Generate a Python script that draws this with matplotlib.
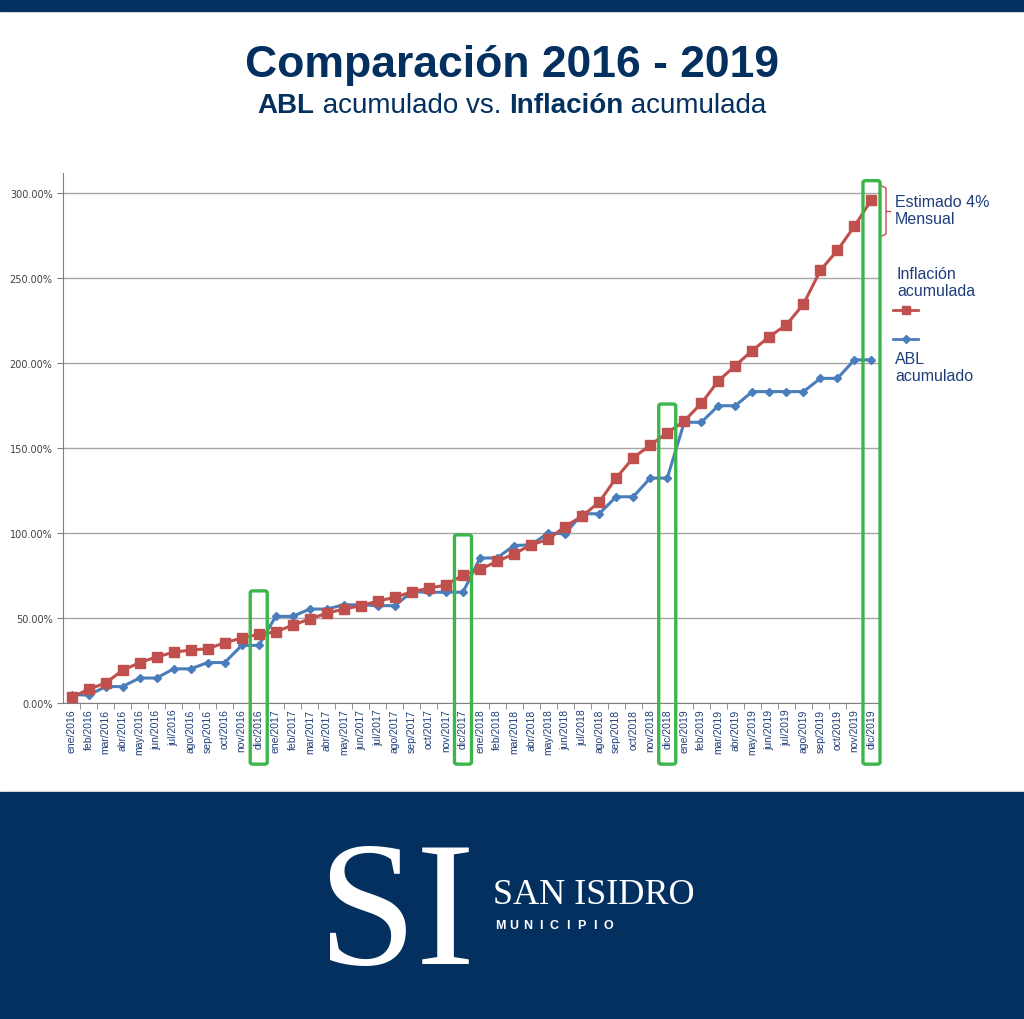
import matplotlib
matplotlib.use("Agg")
import matplotlib.pyplot as plt
from matplotlib.patches import Rectangle, FancyBboxPatch
from matplotlib.lines import Line2D
from matplotlib.ticker import FuncFormatter, MultipleLocator

# datos
meses = ['ene', 'feb', 'mar', 'abr', 'may', 'jun', 'jul', 'ago', 'sep', 'oct', 'nov', 'dic']
anios = [2016, 2017, 2018, 2019]
etiquetas = [m + '/' + str(a) for a in anios for m in meses]

inflacion = [3.4, 8.0, 11.8, 19.2, 23.8, 27.1, 29.9, 31.2, 31.9, 35.5, 38.2, 40.5,
             41.8, 45.9, 49.4, 52.9, 55.3, 57.3, 60.0, 62.2, 65.5, 67.6, 69.4, 75.3,
             78.7, 83.3, 87.8, 93.1, 96.3, 103.9, 110.0, 118.2, 132.5, 144.3, 151.8, 159.0,
             166.0, 176.4, 189.6, 198.6, 207.5, 215.7, 222.6, 234.8, 254.7, 266.5, 280.7, 296.3]

abl = [5.0, 4.6, 9.6, 9.7, 14.7, 14.7, 20.1, 20.1, 23.8, 23.8, 33.9, 33.9,
       51.0, 51.0, 55.3, 55.3, 57.8, 57.8, 57.3, 57.3, 65.5, 65.2, 65.2, 65.2,
       85.3, 85.4, 92.7, 93.1, 100.0, 99.6, 111.4, 111.4, 121.4, 121.4, 132.4, 132.4,
       165.3, 165.2, 175.0, 175.0, 183.3, 183.3, 183.3, 183.3, 191.1, 191.1, 202.0, 202.0]

# recuadros verdes (diciembre de cada anio) y su borde superior
recuadros_idx = [11, 23, 35, 47]
recuadros_top = [66.0, 99.0, 176.0, 307.5]

navy = '#03305f'
txt_azul = '#1f3f7a'
rojo = '#c0504d'
azul = '#4a7ebb'
verde = '#3cb54a'

fig = plt.figure(figsize=(10.24, 10.20), dpi=100)
fig.patch.set_facecolor('white')

# barras azules arriba y abajo
fig.patches.append(Rectangle((0, 1 - 12 / 1020), 1, 12 / 1020, transform=fig.transFigure,
                             color=navy, zorder=0))
fig.patches.append(Rectangle((0, 0), 1, 227 / 1020, transform=fig.transFigure,
                             color=navy, zorder=0))

# titulo
fig.text(0.5, 1 - 65 / 1020, 'Comparación 2016 - 2019', ha='center', va='center',
         fontsize=32, fontweight='bold', color=navy, family='Liberation Sans')

# subtitulo con partes en negrita
partes = [('ABL', 'bold'), (' acumulado vs. ', 'normal'), ('Inflación', 'bold'),
          (' acumulada', 'normal')]
renderer = fig.canvas.get_renderer()
objs = []
total = 0
for s, w in partes:
    t = fig.text(0, 1 - 106 / 1020, s, ha='left', va='center', fontsize=20,
                 fontweight=w, color=navy, family='Liberation Sans')
    ancho = t.get_window_extent(renderer).width
    objs.append((t, ancho))
    total += ancho
x = 512 - total / 2
for t, ancho in objs:
    t.set_x(x / 1024)
    x += ancho

# grafico
ax = fig.add_axes([63 / 1024, 1 - 704 / 1020, (880 - 63) / 1024, (704 - 174) / 1020])
xs = list(range(len(etiquetas)))

ax.plot(xs, abl, color=azul, lw=2.2, marker='D', ms=4.5, zorder=3)
ax.plot(xs, inflacion, color=rojo, lw=2.2, marker='s', ms=6.5, zorder=4)

ax.set_xlim(-0.5, len(etiquetas) - 0.5)
ax.set_ylim(0, 312)
ax.yaxis.set_major_locator(MultipleLocator(50))
ax.yaxis.set_major_formatter(FuncFormatter(lambda v, p: '%.2f%%' % v))
ax.grid(axis='y', color='#a6a6a6', lw=1)
ax.set_axisbelow(True)

ax.set_xticks(xs)
ax.set_xticklabels(etiquetas, rotation=90, fontsize=7.5, color=txt_azul,
                   family='Liberation Sans')
ax.set_xticks([i + 0.5 for i in xs], minor=True)
ax.tick_params(axis='x', which='major', length=0, pad=4)
ax.tick_params(axis='x', which='minor', length=4, color='#808080')
ax.tick_params(axis='y', labelsize=7, labelcolor='#404040', length=4, color='#808080')

for side in ['top', 'right']:
    ax.spines[side].set_visible(False)
for side in ['left', 'bottom']:
    ax.spines[side].set_color('#808080')

# recuadros verdes
fondo = -36
for i, top in zip(recuadros_idx, recuadros_top):
    r = FancyBboxPatch((i - 0.5, fondo), 1.0, top - fondo,
                       boxstyle='round,pad=0,rounding_size=0.15',
                       fill=False, ec=verde, lw=2.4, clip_on=False, zorder=5,
                       mutation_aspect=8)
    ax.add_patch(r)

# leyenda y nota a la derecha
fy = lambda py: 1 - py / 1020
fx = lambda px: px / 1024
fig.lines.append(Line2D([fx(882), fx(886), fx(886), fx(882)],
                        [fy(187), fy(189), fy(235), fy(237)], color=rojo, lw=1,
                        transform=fig.transFigure))
fig.lines.append(Line2D([fx(886), fx(890)], [fy(212), fy(212)], color=rojo, lw=1,
                        transform=fig.transFigure))
fig.text(fx(895), fy(211), 'Estimado 4%\nMensual', ha='left', va='center',
         fontsize=11.5, color=txt_azul, family='Liberation Sans', linespacing=1.2)
fig.text(fx(897), fy(283), 'Inflación\nacumulada', ha='left', va='center',
         fontsize=11.5, color=txt_azul, family='Liberation Sans', linespacing=1.2)
fig.lines.append(Line2D([fx(893), fx(906), fx(918)], [fy(311), fy(311), fy(311)],
                        color=rojo, lw=2, marker='s', ms=5.5, markevery=[1],
                        transform=fig.transFigure))
fig.lines.append(Line2D([fx(893), fx(906), fx(918)], [fy(340), fy(340), fy(340)],
                        color=azul, lw=2, marker='D', ms=4, markevery=[1],
                        transform=fig.transFigure))
fig.text(fx(895), fy(368), 'ABL\nacumulado', ha='left', va='center',
         fontsize=11.5, color=txt_azul, family='Liberation Sans', linespacing=1.2)

# logo del pie
fig.text(fx(396), fy(921), 'SI', ha='center', va='center', fontsize=128,
         color='white', family='Liberation Serif')
fig.text(fx(493), fy(896), 'SAN ISIDRO', ha='left', va='center', fontsize=26,
         color='white', family='Liberation Serif')
letras = 'MUNICIPIO'
for k, c in enumerate(letras):
    fig.text(fx(500 + k * 13.6), fy(926), c, ha='center', va='center', fontsize=9,
             color='white', fontweight='bold', family='Liberation Sans')

fig.savefig('out.png', dpi=100, facecolor=fig.get_facecolor())
